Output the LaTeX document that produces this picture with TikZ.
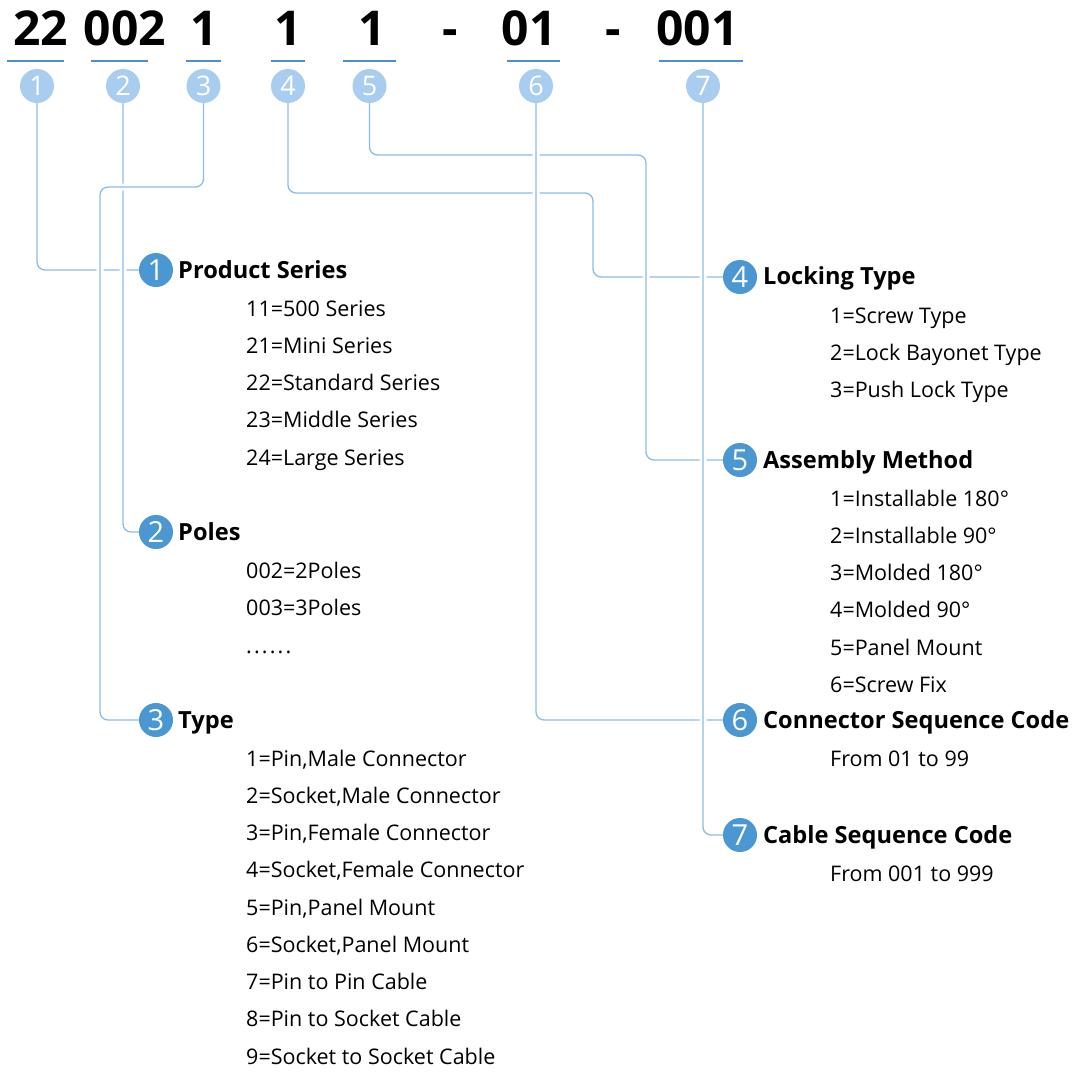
\documentclass[tikz,border=0pt]{standalone}
\usepackage{fontspec}
\setmainfont{Open Sans}
\usetikzlibrary{positioning,backgrounds}
\definecolor{tagblue}{HTML}{A9CDEE}
\definecolor{dotblue}{HTML}{4A97D2}
\definecolor{barblue}{HTML}{4A8FD0}
\definecolor{wireblue}{HTML}{8BBCE6}

\begin{document}
\begin{tikzpicture}
[x=1pt,y=-1pt,
code/.style={anchor=base,inner sep=0pt,font=\fontsize{48}{48}\selectfont\bfseries},
bar/.style={draw=barblue,line width=2.2pt},
tag/.style={circle,fill=tagblue,text=white,inner sep=0pt,minimum size=34pt,font=\fontsize{27}{27}\selectfont},
dot/.style={circle,fill=dotblue,text=white,inner sep=0pt,minimum size=34pt,font=\fontsize{29}{29}\selectfont},
head/.style={anchor=base west,inner sep=0pt,font=\fontsize{23.6}{24}\selectfont\bfseries},
item/.style={anchor=base west,inner sep=0pt,font=\fontsize{21.5}{22}\selectfont},
wire/.style={draw=wireblue,line width=1.3pt,rounded corners=8pt,preaction={draw=white,line width=7pt}}]
\useasboundingbox (0,0) rectangle (1084,1071);

% part number
\node[code] (c1) at (40.5,45) {22};
\node[code] (c2) at (125,45) {002};
\node[code] (c3) at (204.5,45) {1};
\node[code] (c4) at (288,45) {1};
\node[code] (c5) at (372,45) {1};
\node[code] (d1) at (450.5,45) {-};
\node[code] (c6) at (529,45) {01};
\node[code] (d2) at (613,45) {-};
\node[code] (c7) at (697.5,45) {001};

\foreach \a/\b in {7/64,91/148,186/221,271/305,343/396,507/560,659/743}
  \draw[bar] (\a,61) -- (\b,61);

\foreach \x [count=\i] in {37,123,203.5,288,369.5,536,703}
  \node[tag] (s\i) at (\x,86) {\i};

% left column
\node[dot] (b1) at (156,270) {1};
\node[head] (h1) at (178,278) {Product Series};
\foreach \t [count=\i from 0] in {11=500 Series,21=Mini Series,22=Standard Series,23=Middle Series,24=Large Series}
  \node[item] (ps\i) at (246,{316+37.25*\i}) {\t};

\node[dot] (b2) at (156,532) {2};
\node[head] (h2) at (178,540) {Poles};
\node[item] (pl0) at (246,578) {002=2Poles};
\node[item] (pl1) at (246,615) {003=3Poles};
\node[item] (pl2) at (246,653) {\addfontfeature{LetterSpace=10}......};

\node[dot] (b3) at (156,720) {3};
\node[head] (h3) at (178,728) {Type};
\foreach \t [count=\i from 0] in {{1=Pin,Male Connector},{2=Socket,Male Connector},{3=Pin,Female Connector},{4=Socket,Female Connector},{5=Pin,Panel Mount},{6=Socket,Panel Mount},{7=Pin to Pin Cable},{8=Pin to Socket Cable},{9=Socket to Socket Cable}}
  \node[item] (ty\i) at (246,{766+37.25*\i}) {\t};

% right column
\node[dot] (b4) at (740,277) {4};
\node[head] (h4) at (763,284) {Locking Type};
\foreach \t [count=\i from 0] in {1=Screw Type,2=Lock Bayonet Type,3=Push Lock Type}
  \node[item] (lt\i) at (830,{323+37.25*\i}) {\t};

\node[dot] (b5) at (740,460) {5};
\node[head] (h5) at (763,468) {Assembly Method};
\foreach \t [count=\i from 0] in {1=Installable 180°,2=Installable 90°,3=Molded 180°,4=Molded 90°,5=Panel Mount,6=Screw Fix}
  \node[item] (am\i) at (830,{506+37.25*\i}) {\t};

\node[dot] (b6) at (740,720) {6};
\node[head] (h6) at (763,728) {Connector Sequence Code};
\node[item] (cs0) at (830,766) {From 01 to 99};

\node[dot] (b7) at (740,835) {7};
\node[head] (h7) at (763,843) {Cable Sequence Code};
\node[item] (cb0) at (830,881) {From 001 to 999};

\coordinate (k3) at (100,187);
\coordinate (k4) at (593,193);
\coordinate (k5) at (646,155);

\begin{scope}[on background layer]
\fill[white] (0,0) rectangle (1084,1071);
\draw[wire] (s1.south) |- (b1.west);
\draw[wire] (s2.south) |- (b2.west);
\draw[wire] (s3.south) |- (k3) |- (b3.west);
\draw[wire] (s4.south) |- (k4) |- (b4.west);
\draw[wire] (s5.south) |- (k5) |- (b5.west);
\draw[wire] (s6.south) |- (b6.west);
\draw[wire] (s7.south) |- (b7.west);
\end{scope}
\end{tikzpicture}
\end{document}
